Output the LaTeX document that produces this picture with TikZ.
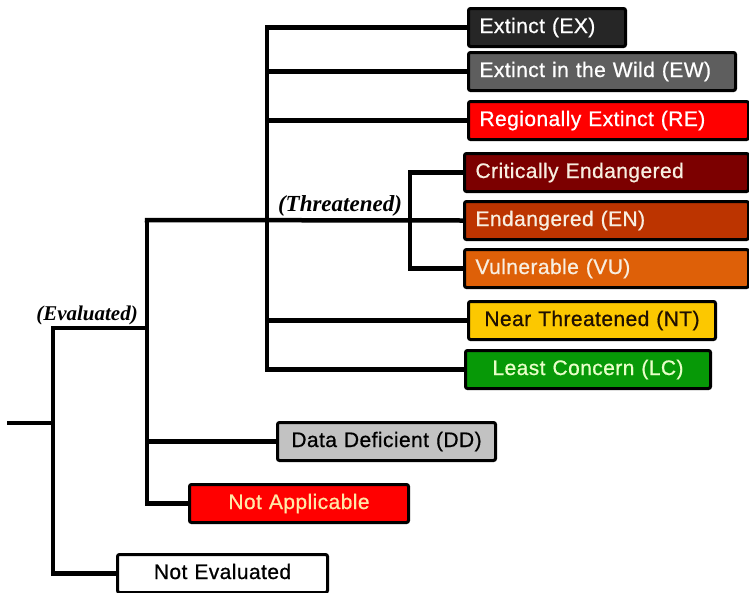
\documentclass[tikz,border=0pt]{standalone}
\usepackage{fontspec}
\setmainfont[LetterSpace=2,FakeBold=0.7]{Liberation Sans}
\newfontfamily\labelfont{Liberation Serif}
\begin{document}
\begin{tikzpicture}[x=1pt,y=-1pt,
  box/.style={draw=black, line width=3pt, rounded corners=2pt, inner xsep=11pt, inner ysep=0pt,
    minimum height=38pt, anchor=north west, font=\fontsize{21}{24}\selectfont, text height=15.5pt, text depth=4.5pt},
  lbox/.style={box, align=left},
  cbox/.style={box, align=center},
  conn/.style={line width=4.5pt, line cap=rect},
  grp/.style={font=\labelfont\bfseries\itshape, inner sep=0pt}]
\useasboundingbox (0,0) rectangle (749,592);
\definecolor{cEX}{HTML}{262626}
\definecolor{cEW}{HTML}{5E5E5E}
\definecolor{cRE}{HTML}{FF0000}
\definecolor{cCR}{HTML}{7C0000}
\definecolor{cEN}{HTML}{BC3400}
\definecolor{cVU}{HTML}{DE6008}
\definecolor{cNT}{HTML}{FCC800}
\definecolor{cLC}{HTML}{079907}
\definecolor{cDD}{HTML}{C2C2C2}
\definecolor{tLight}{HTML}{F8EEE0}
\definecolor{tLC}{HTML}{E8FFC8}
\definecolor{tNA}{HTML}{FFE8A8}
\definecolor{tNT}{HTML}{201000}

% boxes
\node[lbox, fill=cEX, text=white, text width=135pt] (ex) at (467,7) {Extinct (EX)};
\node[lbox, fill=cEW, text=white, text width=245pt] (ew) at (467,51) {Extinct in the Wild (EW)};
\node[lbox, fill=cRE, text=white, text width=258pt] (re) at (467,100) {Regionally Extinct (RE)};
\node[lbox, fill=cCR, text=tLight, text width=262pt] (cr) at (463,152) {Critically Endangered};
\node[lbox, fill=cEN, text=tLight, text width=262pt] (en) at (463,200) {Endangered (EN)};
\node[lbox, fill=cVU, text=tLight, text width=262pt] (vu) at (463,248) {Vulnerable (VU)};
\node[cbox, fill=cNT, text=tNT, text width=225pt] (nt) at (467,300) {Near Threatened (NT)};
\node[cbox, fill=cLC, text=tLC, text width=223pt] (lc) at (464,349) {Least Concern (LC)};
\node[cbox, fill=cDD, text=black, text width=196pt] (dd) at (276,421) {Data Deficient (DD)};
\node[cbox, fill=cRE, text=tNA, text width=197pt] (na) at (188,483) {Not Applicable};
\node[cbox, fill=white, text=black, text width=188pt] (ne) at (116,553) {Not Evaluated};

% junctions
\coordinate (r) at (9,423);
\coordinate (a) at (53,423);
\coordinate (atop) at (53,328);
\coordinate (b) at (147,328);
\coordinate (btop) at (147,220);
\coordinate (c) at (267,220);
\coordinate (d) at (410,220);

% connectors
\draw[conn] (r) -- (a);
\draw[conn] (atop) -- (ne.west -| a);
\draw[conn] (atop) -- (b);
\draw[conn] (ne.west -| a) -- (ne.west);
\draw[conn] (btop) -- (na.west -| b);
\draw[conn] (btop) -- (en.west);
\draw[conn] (dd.west -| b) -- (dd.west);
\draw[conn] (na.west -| b) -- (na.west);
\draw[conn] (ex.west -| c) -- (lc.west -| c);
\draw[conn] (ex.west -| c) -- (ex.west);
\draw[conn] (ew.west -| c) -- (ew.west);
\draw[conn] (re.west -| c) -- (re.west);
\draw[conn] (nt.west -| c) -- (nt.west);
\draw[conn] (lc.west -| c) -- (lc.west);
\draw[conn] (cr.west -| d) -- (vu.west -| d);
\draw[conn] (cr.west -| d) -- (cr.west);
\draw[conn] (vu.west -| d) -- (vu.west);

% group labels
\node[grp, font=\labelfont\bfseries\itshape\fontsize{23}{26}\selectfont, anchor=base] (thr) at (340,211) {(Threatened)};
\node[grp, font=\labelfont\bfseries\itshape\fontsize{21}{24}\selectfont, anchor=base] (evl) at (87,320) {(Evaluated)};
\end{tikzpicture}
\end{document}
